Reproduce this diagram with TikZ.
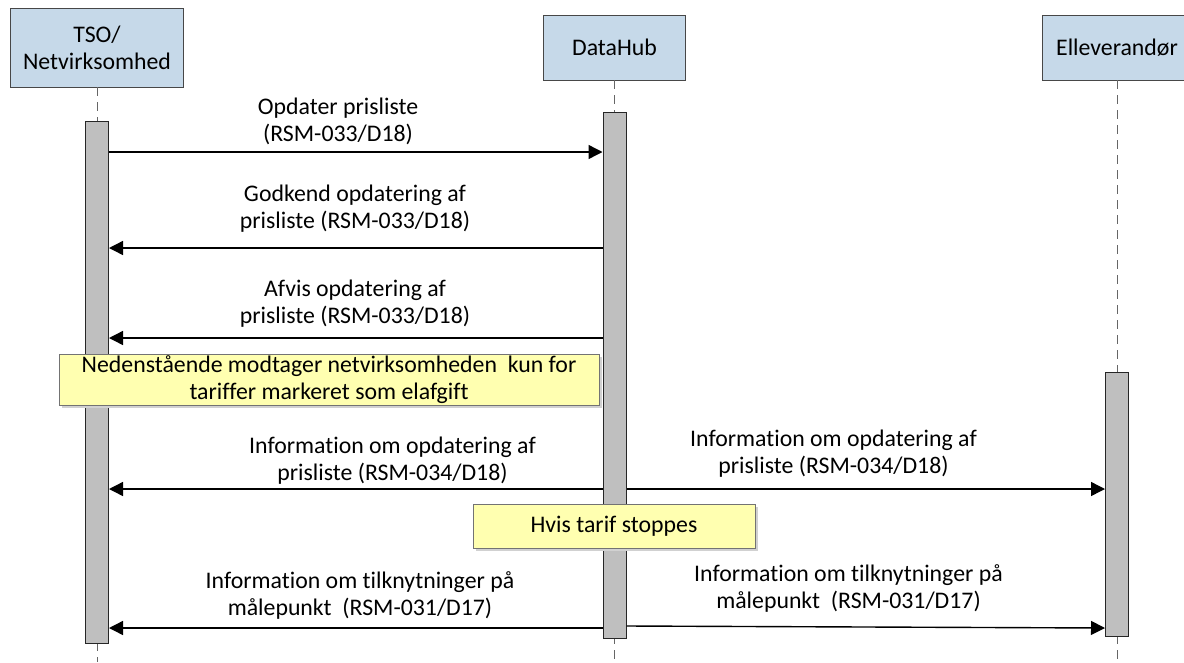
\documentclass[tikz,border=0pt]{standalone}
\usepackage{fontspec}
\setmainfont{Carlito}[Ligatures=NoCommon]
\usetikzlibrary{arrows.meta,shadows}
\definecolor{hdrfill}{RGB}{198,217,233}
\definecolor{notefill}{RGB}{255,255,176}
\definecolor{actfill}{RGB}{191,191,191}
\begin{document}
\begin{tikzpicture}[x=1pt,y=-1pt,
  hdr/.style={draw=black!72, fill=hdrfill, line width=0.9pt, align=center, inner sep=0pt},
  act/.style={draw=black!85, fill=actfill, line width=1pt, inner sep=0pt},
  life/.style={draw=black!60, dash pattern=on 9pt off 6pt, line width=0.8pt},
  msg/.style={line width=1.4pt, -{Triangle[length=14pt,width=14pt]}},
  lbl/.style={align=center, inner sep=0pt},
  notebox/.style={draw=black!55, fill=notefill, line width=0.8pt, align=center, inner sep=0pt,
     drop shadow={shadow xshift=3pt, shadow yshift=-3pt, fill=black!18, opacity=1}},
  font=\fontsize{23.8}{27}\selectfont]
\useasboundingbox (0,0) rectangle (1184,662);
% headers
\node[hdr, minimum width=173, minimum height=79] (tso) at (97,47.5) {TSO/\\Netvirksomhed};
\node[hdr, minimum width=142, minimum height=65] (dh) at (614.5,47.5) {DataHub};
\node[hdr, minimum width=150, minimum height=65] (el) at (1117,47.5) {Elleverandør};
% lifelines
\coordinate (tsoend) at (97,662);
\coordinate (dhend) at (614.5,662);
\coordinate (elend) at (1117,662);
\draw[life] (tso.south) -- (tsoend);
\draw[life] (dh.south) -- (dhend);
\draw[life] (el.south) -- (elend);
% activations
\node[act, minimum width=23, minimum height=522] (tsoact) at (97,382) {};
\node[act, minimum width=23, minimum height=526] (dhact) at (614.5,375) {};
\node[act, minimum width=23, minimum height=264] (elact) at (1117,504) {};
% messages
\draw[msg] (tsoact.east |- 0,152) -- (dhact.west |- 0,152);
\node[lbl] (l1) at (338,121.5) {Opdater prisliste\\(RSM-033/D18)};
\draw[msg] (dhact.west |- 0,248) -- (tsoact.east |- 0,248);
\node[lbl] (l2) at (355,209) {Godkend opdatering af\\prisliste (RSM-033/D18)};
\draw[msg] (dhact.west |- 0,338) -- (tsoact.east |- 0,338);
\node[lbl] (l3) at (355,304) {Afvis opdatering af\\prisliste (RSM-033/D18)};
% note 1
\node[notebox, minimum width=540, minimum height=51] (n1) at (329,379.5)
  {Nedenstående modtager netvirksomheden\ \ kun for\\tariffer markeret som elafgift};
% info messages
\draw[msg] (dhact.west |- 0,489) -- (tsoact.east |- 0,489);
\draw[msg] (dhact.east |- 0,489) -- (elact.west |- 0,489);
\node[lbl] (l4) at (392.5,461) {Information om opdatering af\\prisliste (RSM-034/D18)};
\node[lbl] (l5) at (833.5,453.5) {Information om opdatering af\\prisliste (RSM-034/D18)};
% note 2
\node[notebox, minimum width=282, minimum height=44] (n2) at (614,526) {Hvis tarif stoppes};
% bottom messages
\draw[msg] (dhact.west |- 0,628) -- (tsoact.east |- 0,628);
\draw[msg] (dhact.east |- 0,626) -- (elact.west |- 0,628);
\node[lbl] (l6) at (360,595.5) {Information om tilknytninger på\\målepunkt\ \ (RSM-031/D17)};
\node[lbl] (l7) at (848.5,588.5) {Information om tilknytninger på\\målepunkt\ \ (RSM-031/D17)};
\end{tikzpicture}
\end{document}
